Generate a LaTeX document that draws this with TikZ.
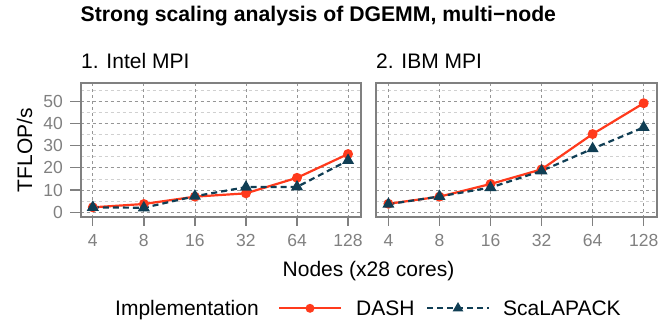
\documentclass[tikz,border=0pt]{standalone}
\usepackage{fontspec}
\setmainfont{Liberation Sans}
\usetikzlibrary{shapes.geometric}
\definecolor{dashred}{RGB}{255,58,28}
\definecolor{scablue}{RGB}{16,62,84}
\definecolor{framegray}{RGB}{128,128,128}
\definecolor{ticklab}{RGB}{128,128,128}
\definecolor{majgrid}{RGB}{150,150,150}
\definecolor{mingrid}{RGB}{208,208,208}
\begin{document}
\begin{tikzpicture}[x=1pt,y=-1pt,
  big/.style={font=\fontsize{21}{25}\selectfont, inner sep=0pt},
  bigbold/.style={font=\fontsize{21.2}{25}\selectfont\bfseries, inner sep=0pt},
  ticklabel/.style={font=\fontsize{17.5}{20}\selectfont, text=ticklab, inner sep=0pt},
  frame/.style={draw=framegray, line width=2pt},
  tickmark/.style={draw=framegray, line width=1.3pt},
  majorgrid/.style={draw=majgrid, line width=0.8pt, dash pattern=on 3pt off 3pt},
  minorgrid/.style={draw=mingrid, line width=0.8pt, dash pattern=on 3pt off 3pt},
  dashline/.style={draw=dashred, line width=2.2pt},
  scaline/.style={draw=scablue, line width=2.2pt, dash pattern=on 6pt off 4pt},
  dashpt/.style={circle, fill=dashred, minimum size=10pt, inner sep=0pt},
  scapt/.style={regular polygon, regular polygon sides=3, fill=scablue, minimum size=14pt, inner sep=0pt}
]
\useasboundingbox (0,0) rectangle (660,322);

% title
\node[bigbold, anchor=base west] (title) at (80.5,21.8) {Strong scaling analysis of DGEMM, multi−node};
\node[big, anchor=base west] (p1title) at (81,68) {1. Intel MPI};
\node[big, anchor=base west] (p2title) at (376,68) {2. IBM MPI};

% panels: left, right, first tick x
\foreach \L/\R/\X/\P in {80.5/361/92.8/1, 376/657/388.4/2}{
  \foreach \v in {5,15,...,55}
    \draw[minorgrid] (\L,{212.2-2.22*\v}) -- (\R,{212.2-2.22*\v});
  \foreach \v in {0,10,...,50}
    \draw[majorgrid] (\L,{212.2-2.22*\v}) -- (\R,{212.2-2.22*\v});
  \foreach \lab [count=\i from 0] in {4,8,16,32,64,128}{
    \draw[majorgrid] ({\X+51.05*\i},83) -- ({\X+51.05*\i},217);
    \draw[tickmark] ({\X+51.05*\i},217) -- ({\X+51.05*\i},226);
    \node[ticklabel, anchor=base] (xl\P\i) at ({\X+51.05*\i},246.5) {\lab};
  }
}

% y ticks (panel 1 only)
\foreach \v in {0,10,...,50}{
  \draw[tickmark] (70,{212.2-2.22*\v}) -- (80.5,{212.2-2.22*\v});
  \node[ticklabel, anchor=base east] (yl\v) at (63,{218.3-2.22*\v}) {\v};
}

% data coordinates
\foreach \v [count=\i from 0] in {2.2,3.7,7.0,8.5,15.5,26.2}
  \coordinate (da\i) at ({92.8+51.05*\i},{212.2-2.22*\v});
\foreach \v [count=\i from 0] in {2.2,2.0,7.2,11.3,11.4,23.3}
  \coordinate (sa\i) at ({92.8+51.05*\i},{212.2-2.22*\v});
\foreach \v [count=\i from 0] in {3.8,7.0,12.7,19.3,35.2,49.1}
  \coordinate (db\i) at ({388.4+51.05*\i},{212.2-2.22*\v});
\foreach \v [count=\i from 0] in {3.6,7.1,11.1,18.6,28.6,38.2}
  \coordinate (sb\i) at ({388.4+51.05*\i},{212.2-2.22*\v});

\draw[dashline] (da0) -- (da1) -- (da2) -- (da3) -- (da4) -- (da5);
\draw[scaline] (sa0) -- (sa1) -- (sa2) -- (sa3) -- (sa4) -- (sa5);
\draw[dashline] (db0) -- (db1) -- (db2) -- (db3) -- (db4) -- (db5);
\draw[scaline] (sb0) -- (sb1) -- (sb2) -- (sb3) -- (sb4) -- (sb5);
\foreach \i in {0,...,5}{
  \node[dashpt] (mda\i) at (da\i) {};
  \node[dashpt] (mdb\i) at (db\i) {};
}
\foreach \i in {0,...,5}{
  \node[scapt] (msa\i) at (sa\i) {};
  \node[scapt] (msb\i) at (sb\i) {};
}

% frames
\draw[frame] (80.5,83) rectangle (361,217);
\draw[frame] (376,83) rectangle (657,217);

% axis titles
\node[big, rotate=90, anchor=base] (ylab) at (32,150) {TFLOP/s};
\node[big, anchor=base] (xlab) at (368.5,276.5) {Nodes (x28 cores)};

% legend
\node[big, anchor=base west] (legtitle) at (115,315) {Implementation};
\coordinate (l1a) at (279,308.3);
\coordinate (l1b) at (341,308.3);
\draw[dashline] (l1a) -- (l1b);
\node[dashpt, minimum size=9pt] (l1m) at (310,308.3) {};
\node[big, anchor=base west] (l1t) at (356,315) {DASH};
\coordinate (l2a) at (427,308.3);
\coordinate (l2b) at (489,308.3);
\draw[scaline] (l2a) -- (l2b);
\node[scapt, minimum size=12.5pt] (l2m) at (458,308.3) {};
\node[big, anchor=base west] (l2t) at (503,315) {ScaLAPACK};
\end{tikzpicture}
\end{document}
